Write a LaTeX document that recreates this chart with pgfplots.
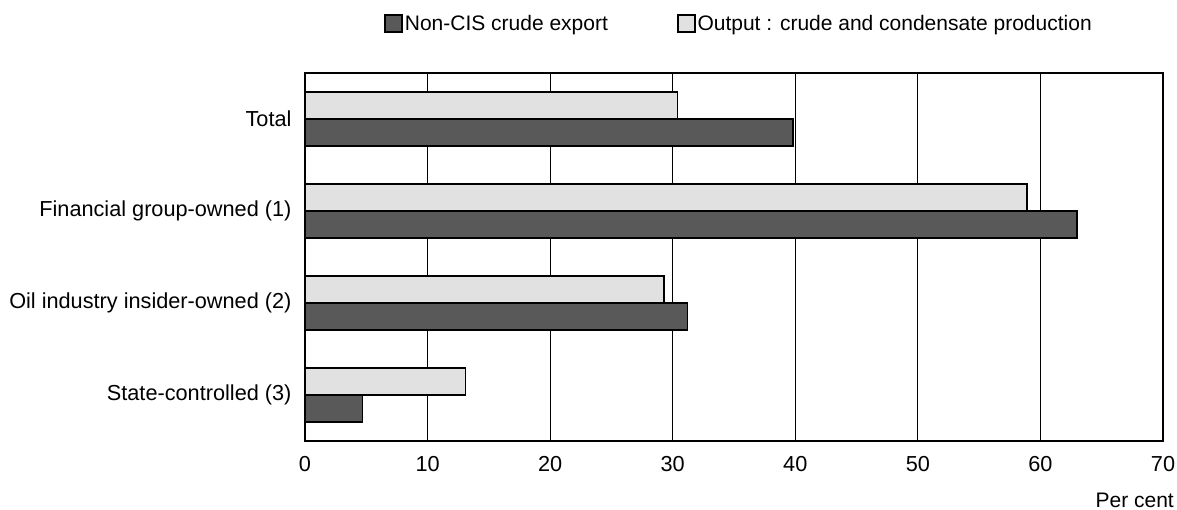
\documentclass[border=0pt]{standalone}
\usepackage{pgfplots}
\pgfplotsset{compat=1.18}
\usepackage{fontspec}
\setmainfont{Liberation Sans}
\definecolor{darkbar}{HTML}{595959}
\definecolor{lightbar}{HTML}{E1E1E1}
\newcommand{\chartfont}{\fontsize{21}{24}\selectfont}
\newcommand{\tickfont}{\fontsize{21.7}{24}\selectfont}
\begin{document}
\begin{tikzpicture}[x=1pt,y=1pt]
\useasboundingbox (-305,-69) rectangle (872,441);
\begin{axis}[
  at={(0,0)}, anchor=south west,
  scale only axis, width=858pt, height=368pt,
  xbar, bar width=27pt,
  xmin=0, xmax=70, ymin=-0.5, ymax=3.5,
  xtick={0,10,...,70},
  ytick={0,1,2,3},
  yticklabels={State-controlled (3), Oil industry insider-owned (2), Financial group-owned (1), Total},
  major tick length=0pt,
  xmajorgrids, major grid style={black, line width=0.9pt},
  axis line style={black, line width=1.1pt},
  tick label style={font=\tickfont},
  /pgf/number format/assume math mode=true,
  xticklabel style={yshift=-12pt},
  yticklabel style={xshift=-10pt},
  legend style={draw=none, at={(0.5,1)}, anchor=south, yshift=37pt, xshift=5pt,
    font=\chartfont, /tikz/every even column/.append style={column sep=67pt}},
  legend columns=2,
  legend image code/.code={\draw[#1, line width=1.6pt] (0pt,-8.5pt) rectangle (17pt,8.5pt);},
  clip=false,
]
\addplot[draw=black, fill=darkbar, line width=1.5pt, bar shift=-13.5pt] coordinates {(4.7,0) (31.2,1) (63.0,2) (39.8,3)};
\addplot[draw=black, fill=lightbar, line width=1.5pt, bar shift=13.5pt] coordinates {(13.1,0) (29.3,1) (58.9,2) (30.4,3)};
\legend{Non-CIS crude export, Output : crude and condensate production}
\node[anchor=north east, font=\chartfont, inner sep=0pt] at ([xshift=11pt,yshift=-52pt]rel axis cs:1,0) {Per cent};
\end{axis}
\end{tikzpicture}
\end{document}
